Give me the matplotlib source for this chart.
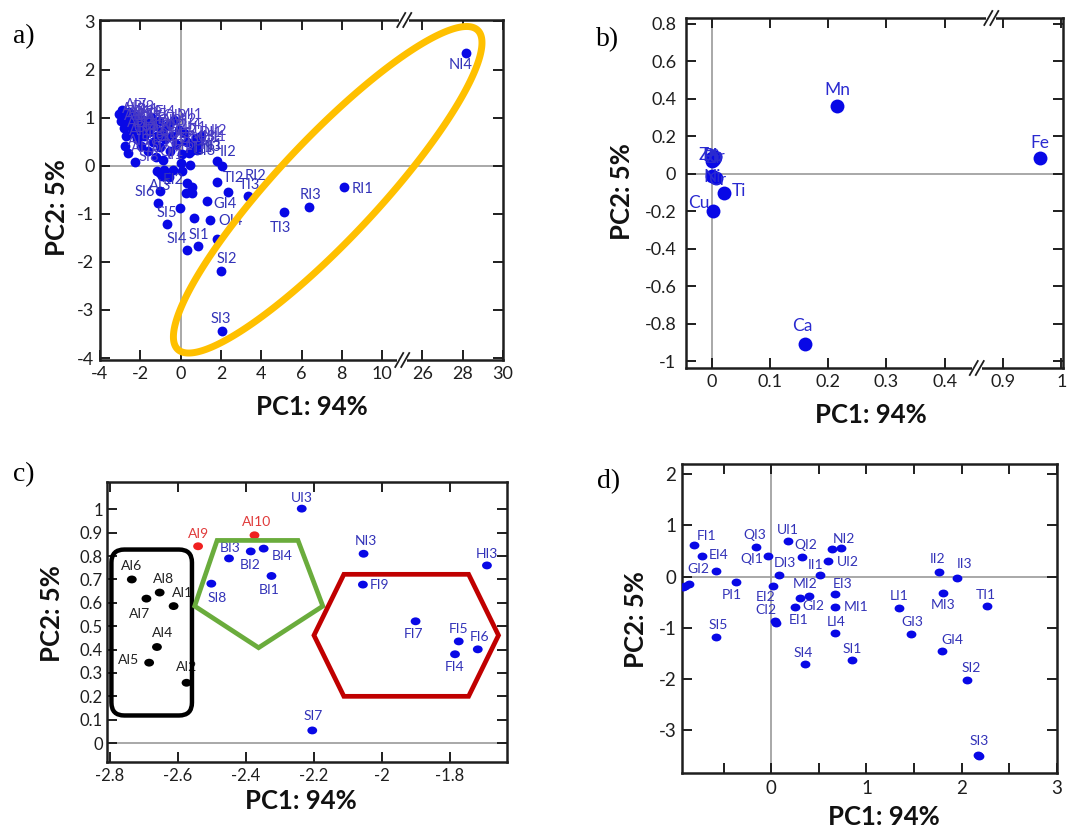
import numpy as np
import matplotlib.pyplot as plt
from matplotlib.patches import Polygon, FancyBboxPatch
from matplotlib.path import Path
from matplotlib.transforms import Affine2D

plt.rcParams['font.family'] = ['Lato', 'DejaVu Sans']

W, H = 1067, 830
DOT = '#0808e6'
TXT = '#3232b8'
BLOB = '#4a3cc4'

# ---------------- panel a: all samples (x axis broken between 10 and 26)
a_names = ['NI4', 'RI1', 'RI3', 'TI3', 'TI3', 'RI2', 'TI2', 'GI4', 'OI4', '',
           'SI2', 'SI3', 'SI1', 'SI4', '', '', 'SI5', '', 'SI6', 'II3', 'II2', 'GI3',
           '', '', '', '', 'AI3', 'EI2', '', '', '', '', '', '', '', '']
a_x = [28.15, 8.1, 6.35, 5.13, 3.33, 2.33, 1.8, 1.33, 1.47, 1.83,
       2.0, 2.03, 0.87, 0.33, 0.67, -0.03, -1.13, -0.67, -1.0, 1.8, 2.05, 0.5,
       0.33, 0.58, 0.25, 0.58, -0.92, -0.37, -0.83, -0.75, -0.58, -1.17, -1.0, 0.08, 0.47, 0.0]
a_y = [2.35, -0.44, -0.85, -0.97, -0.63, -0.55, -0.33, -0.74, -1.12, -1.52,
       -2.19, -3.44, -1.66, -1.75, -1.08, -0.88, -0.77, -1.22, -0.52, 0.1, 0.0, 0.3,
       -0.35, -0.44, -0.57, -0.57, -0.22, -0.08, -0.08, -0.19, -0.23, -0.1, -0.16, -0.12, 0.02, 0.05]

# dense cluster of overlapping samples in the upper left of panel a
blob_names = ['AI6', 'AI8', 'AI7', 'AI1', 'AI4', 'AI5', 'AI9', 'AI10', 'AI2', 'BI3',
              'BI2', 'BI4', 'BI1', 'SI8', 'UI3', 'NI3', 'FI9', 'HI3', 'FI7', 'FI5',
              'FI6', 'FI4', 'SI7', 'FI1', 'EI4', 'GI2', 'QI3', 'QI1', 'UI1', 'QI2',
              'NI2', 'UI2', 'II1', 'DI3', 'MI2', 'EI1', 'CI2', 'MI1', 'EI3', 'LI4',
              'PI1', 'LI1', 'MI3', 'TI1', 'CI1', 'DI1', 'HI1', 'UI2', 'KI1']
blob_x = [-3.05, -2.95, -2.9, -2.82, -2.78, -2.75, -2.7, -2.62, -2.6, -2.55,
          -2.48, -2.4, -2.35, -2.25, -2.22, -2.15, -2.1, -2.0, -1.95, -1.85,
          -1.8, -1.7, -1.62, -1.55, -1.45, -1.38, -1.3, -1.2, -1.15, -1.05,
          -1.0, -0.92, -0.85, -0.75, -0.65, -0.55, -0.45, -0.35, -0.25, -0.1,
          0.05, 0.17, 0.3, 0.42, 0.67, 0.75, 0.92, 1.0, 0.83]
blob_y = [1.08, 0.92, 1.15, 0.78, 1.02, 0.40, 0.62, 0.26, 0.95, 1.12,
          0.82, 0.68, 1.05, 0.07, 0.9, 0.55, 1.0, 0.76, 0.42, 0.95,
          0.62, 0.85, 0.3, 0.7, 1.02, 0.5, 0.82, 0.18, 0.62, 0.92,
          0.38, 0.72, 0.12, 0.55, 0.85, 0.3, 0.62, 0.95, 0.45, 0.75,
          0.25, 0.68, 0.5, 0.26, 0.47, 0.57, 0.5, 0.61, 0.33]

# ---------------- panel b: element loadings (x axis broken between 0.45 and 0.85)
b_names = ['Mn', 'Ca', 'Ti', 'Cu', 'Fe', 'Zn', 'Sr', 'Rb', 'Pb', 'Zr', 'Ni', 'Cr']
b_x = [0.216, 0.161, 0.022, 0.003, 0.964, 0.0, 0.004, 0.002, 0.006, 0.001, 0.001, 0.007]
b_y = [0.36, -0.91, -0.105, -0.20, 0.082, 0.085, 0.08, 0.075, 0.09, 0.07, -0.01, -0.025]

# ---------------- panel c: subset with groups
c_names = ['AI6', 'AI8', 'AI7', 'AI1', 'AI4', 'AI5', 'AI2', 'AI9', 'AI10', 'UI3',
           'BI3', 'BI2', 'BI4', 'BI1', 'SI8', 'NI3', 'FI9', 'HI3', 'FI7', 'FI5',
           'FI6', 'FI4', 'SI7']
c_x = [-2.735, -2.653, -2.692, -2.612, -2.661, -2.684, -2.574, -2.540, -2.374, -2.235,
       -2.449, -2.385, -2.347, -2.324, -2.501, -2.053, -2.055, -1.690, -1.900, -1.773,
       -1.717, -1.784, -2.204]
c_y = [0.70, 0.644, 0.618, 0.586, 0.411, 0.344, 0.258, 0.842, 0.889, 1.003,
       0.79, 0.82, 0.832, 0.715, 0.682, 0.81, 0.678, 0.76, 0.521, 0.435,
       0.401, 0.38, 0.054]
c_group = ['k'] * 7 + ['r'] * 2 + ['b'] * 14

# ---------------- panel d: subset without outliers
d_names = ['FI1', 'EI4', 'GI2', '', '', '', 'PI1', 'SI5', 'QI3', 'QI1', 'UI1', 'QI2',
           '', 'NI2', 'UI2', 'II1', 'DI3', 'EI2', 'CI2', '', 'MI2', 'GI2', 'EI1',
           'EI3', 'MI1', 'LI4', 'SI4', 'SI1', 'LI1', 'GI3', 'II2', 'II3', 'MI3',
           'TI1', 'GI4', 'SI2', 'SI3', '']
d_x = [-0.808, -0.727, -0.577, -0.902, -0.86, -0.93, -0.37, -0.577, -0.16, -0.035, 0.171, 0.322,
       0.637, 0.731, 0.60, 0.514, 0.077, 0.017, 0.042, 0.055, 0.297, 0.392, 0.245,
       0.665, 0.672, 0.672, 0.357, 0.847, 1.336, 1.466, 1.763, 1.955, 1.798,
       2.263, 1.794, 2.053, 2.169, 2.185]
d_y = [0.618, 0.403, 0.117, -0.18, -0.14, -0.21, -0.11, -1.18, 0.573, 0.40, 0.696, 0.39,
       0.534, 0.553, 0.312, 0.033, 0.033, -0.175, -0.864, -0.9, -0.42, -0.37, -0.585,
       -0.344, -0.585, -1.10, -1.71, -1.62, -0.617, -1.117, 0.085, -0.032, -0.325,
       -0.565, -1.448, -2.01, -3.47, -3.5]

# label placement (pixels from dot: dx, dy up, alignment)
a_lab = [(-5, -12, 'center'), (8, -2, 'left'), (2, 12, 'center'), (-4, -16, 'center'),
         (2, 11, 'center'), (28, 16, 'center'), (6, 4, 'left'), (6, -3, 'left'),
         (8, -1, 'left'), None, (6, 12, 'center'), (-1, 12, 'center'), (1, 11, 'center'),
         (-10, 11, 'center'), None, None, (9, -10, 'center'), None, (-5, -1, 'right'),
         (-4, 14, 'center'), (6, 14, 'center'), (2, 0, 'left'), None, None, None, None,
         (-2, -10, 'center'), (0, -10, 'center')] + [None] * 8
b_lab = [(0, 16, 'center'), (-3, 18, 'center'), (7, 2, 'left'), (-4, 8, 'right'),
         (0, 15, 'center'), (-3, 3, 'center'), (3, 2, 'center'), (0, 4, 'center'),
         (-2, 1, 'center'), (2, 3, 'center'), (0, -1, 'center'), (1, -2, 'center')]
c_lab = [(0, 13, 'center'), (4, 14, 'center'), (-7, -15, 'center'), (9, 13, 'center'),
         (6, 14, 'center'), (-10, 3, 'right'), (0, 16, 'center'), (0, 12, 'center'),
         (2, 13, 'center'), (0, 11, 'center'), (1, 10, 'center'), (-1, -14, 'center'),
         (19, -7, 'center'), (-2, -14, 'center'), (6, -14, 'center'), (2, 13, 'center'),
         (7, 0, 'left'), (0, 11, 'center'), (-2, -13, 'center'), (0, 12, 'center'),
         (2, 12, 'center'), (0, -13, 'center'), (1, 14, 'center')]
d_lab = [(12, 9, 'center'), (7, 1, 'left'), (-7, 2, 'right'), None, None, None,
         (-4, -13, 'center'), (2, 12, 'center'), (-1, 12, 'center'), (-5, -3, 'right'),
         (0, 11, 'center'), (4, 12, 'center'), None, (3, 9, 'center'), (8, -1, 'left'),
         (-5, 10, 'center'), (6, 12, 'center'), (-7, -11, 'center'), (-9, 11, 'center'), None,
         (6, 14, 'center'), (5, -10, 'center'), (4, -13, 'center'), (8, 10, 'center'),
         (8, 0, 'left'), (1, 11, 'center'), (-2, 11, 'center'), (0, 11, 'center'),
         (1, 12, 'center'), (1, 12, 'center'), (-2, 13, 'center'), (7, 14, 'center'),
         (1, -12, 'center'), (-1, 11, 'center'), (10, 11, 'center'), (4, 12, 'center'),
         (1, 14, 'center'), None]


def box(l, t, r, b):
    return [l / W, 1 - b / H, (r - l) / W, (b - t) / H]


def style(ax, size):
    ax.tick_params(direction='in', length=7, width=1.4, top=True, right=True,
                   labelsize=size, colors='#1e1e1e', pad=4)
    for s in ax.spines.values():
        s.set_linewidth(1.8)
        s.set_color('#1e1e1e')


def labels(ax, xs, ys, names, lay, color, size, default=None):
    for x, y, n, p in zip(xs, ys, names, lay):
        if p is None:
            p = default
        if p is None or n == '':
            continue
        ax.annotate(n, (x, y), xytext=(p[0] * 0.72, p[1] * 0.72), textcoords='offset points',
                    ha=p[2], va='center', fontsize=size, color=color, zorder=4)


def brk(ax, xd, side):
    lo, hi = ax.get_xlim()
    pos = ax.get_position()
    bw, bh = pos.width * W, pos.height * H
    xa = (xd - lo) / (hi - lo)
    ya = 1 if side == 'top' else 0
    ax.plot([xa - 5 / bw, xa + 5 / bw], [ya, ya], transform=ax.transAxes, color='white',
            lw=3, clip_on=False, zorder=10, solid_capstyle='butt')
    for off in (-3, 3):
        ax.plot([xa + (off - 4) / bw, xa + (off + 4) / bw], [ya - 7 / bh, ya + 7 / bh],
                transform=ax.transAxes, color='#1e1e1e', lw=1.3, clip_on=False, zorder=11)


oval = Path.unit_circle().transformed(Affine2D().scale(1.25, 1.0))
fig = plt.figure(figsize=(W / 100, H / 100), dpi=100)

# ---------- a
ax = fig.add_axes(box(100, 20, 503, 360))
a_pos = lambda v: [x if x < 11 else x - 14 for x in v]
ax.axhline(0, color='#9a9a9a', lw=1.2, zorder=0)
ax.axvline(0, color='#9a9a9a', lw=1.2, zorder=0)
ax.scatter(a_pos(blob_x), blob_y, s=50, color=DOT, zorder=3, linewidths=0)
labels(ax, blob_x, blob_y, blob_names, [None] * len(blob_x), BLOB, 10.5, default=(3, 5, 'left'))
ax.scatter(a_pos(a_x), a_y, s=50, color=DOT, zorder=3, linewidths=0)
labels(ax, a_pos(a_x), a_y, a_names, a_lab, TXT, 10.5)
ax.set_xlim(-4, 16)
ax.set_ylim(-4.04, 3.03)
ax.set_xticks([-4, -2, 0, 2, 4, 6, 8, 10, 12, 14, 16])
ax.set_xticklabels(['-4', '-2', '0', '2', '4', '6', '8', '10', '26', '28', '30'])
ax.set_yticks(range(-4, 4))
ax.set_yticklabels(['-4', '-3', '-2', '-1', '0', '1', '2', '3'])
style(ax, 13)
pos = ax.get_position()
sx, sy = pos.width * W / 20, pos.height * H / 7.07
t = np.linspace(0, 2 * np.pi, 300)
th = np.radians(46.8)
u, v = 219 * np.cos(t), 50 * np.sin(t)
ex = 7.3 + (u * np.cos(th) - v * np.sin(th)) / sx
ey = -0.5 + (u * np.sin(th) + v * np.cos(th)) / sy
ax.add_patch(Polygon(np.c_[ex, ey], closed=True, fill=False, ec='#ffc000', lw=5, zorder=6))
brk(ax, 11.1, 'top')
brk(ax, 11.0, 'bottom')

# ---------- b
ax = fig.add_axes(box(686, 18, 1063, 368))
b_pos = lambda v: [x if x < 0.45 else x - 0.4 for x in v]
ax.axhline(0, color='#9a9a9a', lw=1.2, zorder=0)
ax.axvline(0, color='#9a9a9a', lw=1.2, zorder=0)
ax.scatter(b_pos(b_x), b_y, s=100, color=DOT, zorder=3, linewidths=0)
labels(ax, b_pos(b_x), b_y, b_names, b_lab, '#2a2ad0', 12.5)
ax.set_xlim(-0.044, 0.603)
ax.set_ylim(-1.037, 0.832)
ax.set_xticks([0, 0.1, 0.2, 0.3, 0.4, 0.5, 0.6])
ax.set_xticklabels(['0', '0.1', '0.2', '0.3', '0.4', '0.9', '1'])
yt = [-1, -0.8, -0.6, -0.4, -0.2, 0, 0.2, 0.4, 0.6, 0.8]
ax.set_yticks(yt)
ax.set_yticklabels(['-1', '-0.8', '-0.6', '-0.4', '-0.2', '0', '0.2', '0.4', '0.6', '0.8'])
style(ax, 13)
ax.tick_params(axis='y', pad=7)
brk(ax, 0.48, 'top')
brk(ax, 0.455, 'bottom')

# ---------- c
ax = fig.add_axes(box(107, 482, 507, 762))
ax.axhline(0, color='#9a9a9a', lw=1.2, zorder=0)
dot_col = {'k': '#000000', 'r': '#f02020', 'b': DOT}
txt_col = {'k': '#202020', 'r': '#e03a3a', 'b': TXT}
ax.scatter(c_x, c_y, s=50, marker=oval, color=[dot_col[g] for g in c_group], zorder=3, linewidths=0)
for g in 'krb':
    idx = [i for i, q in enumerate(c_group) if q == g]
    labels(ax, [c_x[i] for i in idx], [c_y[i] for i in idx], [c_names[i] for i in idx],
           [c_lab[i] for i in idx], txt_col[g], 10)
ax.set_xlim(-2.808, -1.631)
ax.set_ylim(-0.081, 1.117)
ax.set_xticks([-2.8, -2.6, -2.4, -2.2, -2.0, -1.8])
ax.set_xticklabels(['-2.8', '-2.6', '-2.4', '-2.2', '-2', '-1.8'])
ax.set_yticks(np.round(np.arange(0, 1.01, 0.1), 1))
ax.set_yticklabels(['0', '0.1', '0.2', '0.3', '0.4', '0.5', '0.6', '0.7', '0.8', '0.9', '1'])
style(ax, 12)
ax.tick_params(axis='y', pad=3)
asp = (ax.get_position().width * W / 1.177) / (ax.get_position().height * H / 1.198)
ax.add_patch(FancyBboxPatch((-2.795, 0.118), 0.237, 0.71,
                            boxstyle='round,pad=0,rounding_size=0.038', mutation_aspect=asp,
                            fill=False, ec='#000000', lw=3.2, zorder=6))
ax.add_patch(Polygon([(-2.484, 0.867), (-2.246, 0.867), (-2.173, 0.586), (-2.362, 0.408),
                      (-2.55, 0.586)], closed=True, fill=False, ec='#6aac3c', lw=3.4,
                     joinstyle='miter', zorder=6))
ax.add_patch(Polygon([(-2.111, 0.722), (-1.744, 0.722), (-1.656, 0.461), (-1.744, 0.2),
                      (-2.111, 0.2), (-2.199, 0.461)], closed=True, fill=False, ec='#c00000',
                     lw=3.4, joinstyle='miter', zorder=6))

# ---------- d
ax = fig.add_axes(box(682, 464, 1057, 773))
ax.axhline(0, color='#9a9a9a', lw=1.2, zorder=0)
ax.axvline(0, color='#9a9a9a', lw=1.2, zorder=0)
ax.scatter(d_x, d_y, s=50, marker=oval, color=DOT, zorder=3, linewidths=0)
labels(ax, d_x, d_y, d_names, d_lab, TXT, 10)
ax.set_xlim(-0.937, 3.0)
ax.set_ylim(-3.83, 2.2)
xt = [-0.5, 0, 0.5, 1, 1.5, 2, 2.5, 3]
ax.set_xticks(xt)
ax.set_xticklabels([str(int(v)) if v == int(v) else '' for v in xt])
ax.set_yticks([-3, -2, -1, 0, 1, 2])
ax.set_yticklabels(['-3', '-2', '-1', '0', '1', '2'])
style(ax, 13.5)
ax.tick_params(axis='x', pad=5)

# ---------- titles and axis names
serif = dict(family='Liberation Serif', fontsize=20, va='center', ha='left')
for s, x, y in [('a)', 13, 37), ('b)', 596, 40), ('c)', 13, 475), ('d)', 597, 482)]:
    fig.text(x / W, 1 - y / H, s, **serif)
bold = dict(fontsize=18.5, fontweight='bold', ha='center', va='center', color='#111111')
for x, y in [(312, 407), (871, 415), (301, 801), (884, 817)]:
    fig.text(x / W, 1 - y / H, 'PC1: 94%', **bold)
for x, y in [(57, 208), (622, 192), (52, 614), (636, 620)]:
    fig.text(x / W, 1 - y / H, 'PC2: 5%', rotation=90, **bold)

fig.savefig('out.png', dpi=100)
